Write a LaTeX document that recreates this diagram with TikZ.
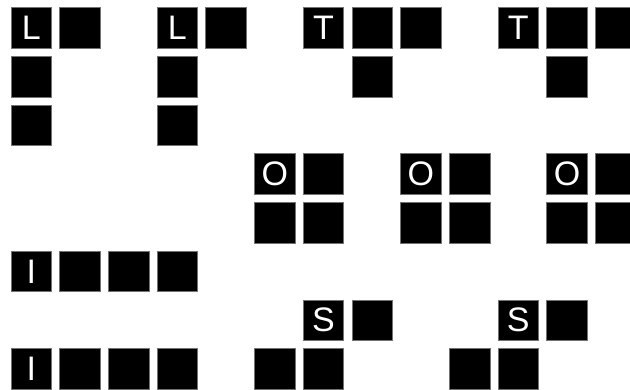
\documentclass[tikz,border=0pt]{standalone}
\usepackage{fontspec}
\setmainfont{Liberation Sans}
\tikzset{
  sq/.style={rectangle, fill=black, draw=black!55, line width=0.7pt, minimum size=40.6pt, inner sep=0pt, text=white, font=\fontsize{34}{34}\selectfont},
}
\newcommand\blk[4]{\node[sq] (#1) at ({31.3+48.7*#2},{28+48.7*#3}) {#4};}
\begin{document}
\begin{tikzpicture}[x=1pt,y=-1pt]
\useasboundingbox (0,0) rectangle (630,389);
% L pieces
\blk{la}{0}{0}{L}\blk{lb}{1}{0}{}\blk{lc}{0}{1}{}\blk{ld}{0}{2}{}
\blk{ma}{3}{0}{L}\blk{mb}{4}{0}{}\blk{mc}{3}{1}{}\blk{md}{3}{2}{}
% T pieces
\blk{ta}{6}{0}{T}\blk{tb}{7}{0}{}\blk{tc}{8}{0}{}\blk{td}{7}{1}{}
\blk{ua}{10}{0}{T}\blk{ub}{11}{0}{}\blk{uc}{12}{0}{}\blk{ud}{11}{1}{}
% O pieces
\blk{oa}{5}{3}{O}\blk{ob}{6}{3}{}\blk{oc}{5}{4}{}\blk{od}{6}{4}{}
\blk{pa}{8}{3}{O}\blk{pb}{9}{3}{}\blk{pc}{8}{4}{}\blk{pd}{9}{4}{}
\blk{qa}{11}{3}{O}\blk{qb}{12}{3}{}\blk{qc}{11}{4}{}\blk{qd}{12}{4}{}
% I pieces
\blk{ia}{0}{5}{I}\blk{ib}{1}{5}{}\blk{ic}{2}{5}{}\blk{id}{3}{5}{}
\blk{ja}{0}{7}{I}\blk{jb}{1}{7}{}\blk{jc}{2}{7}{}\blk{jd}{3}{7}{}
% S pieces
\blk{sa}{6}{6}{S}\blk{sb}{7}{6}{}\blk{sc}{5}{7}{}\blk{sd}{6}{7}{}
\blk{ra}{10}{6}{S}\blk{rb}{11}{6}{}\blk{rc}{9}{7}{}\blk{rd}{10}{7}{}
\end{tikzpicture}
\end{document}
